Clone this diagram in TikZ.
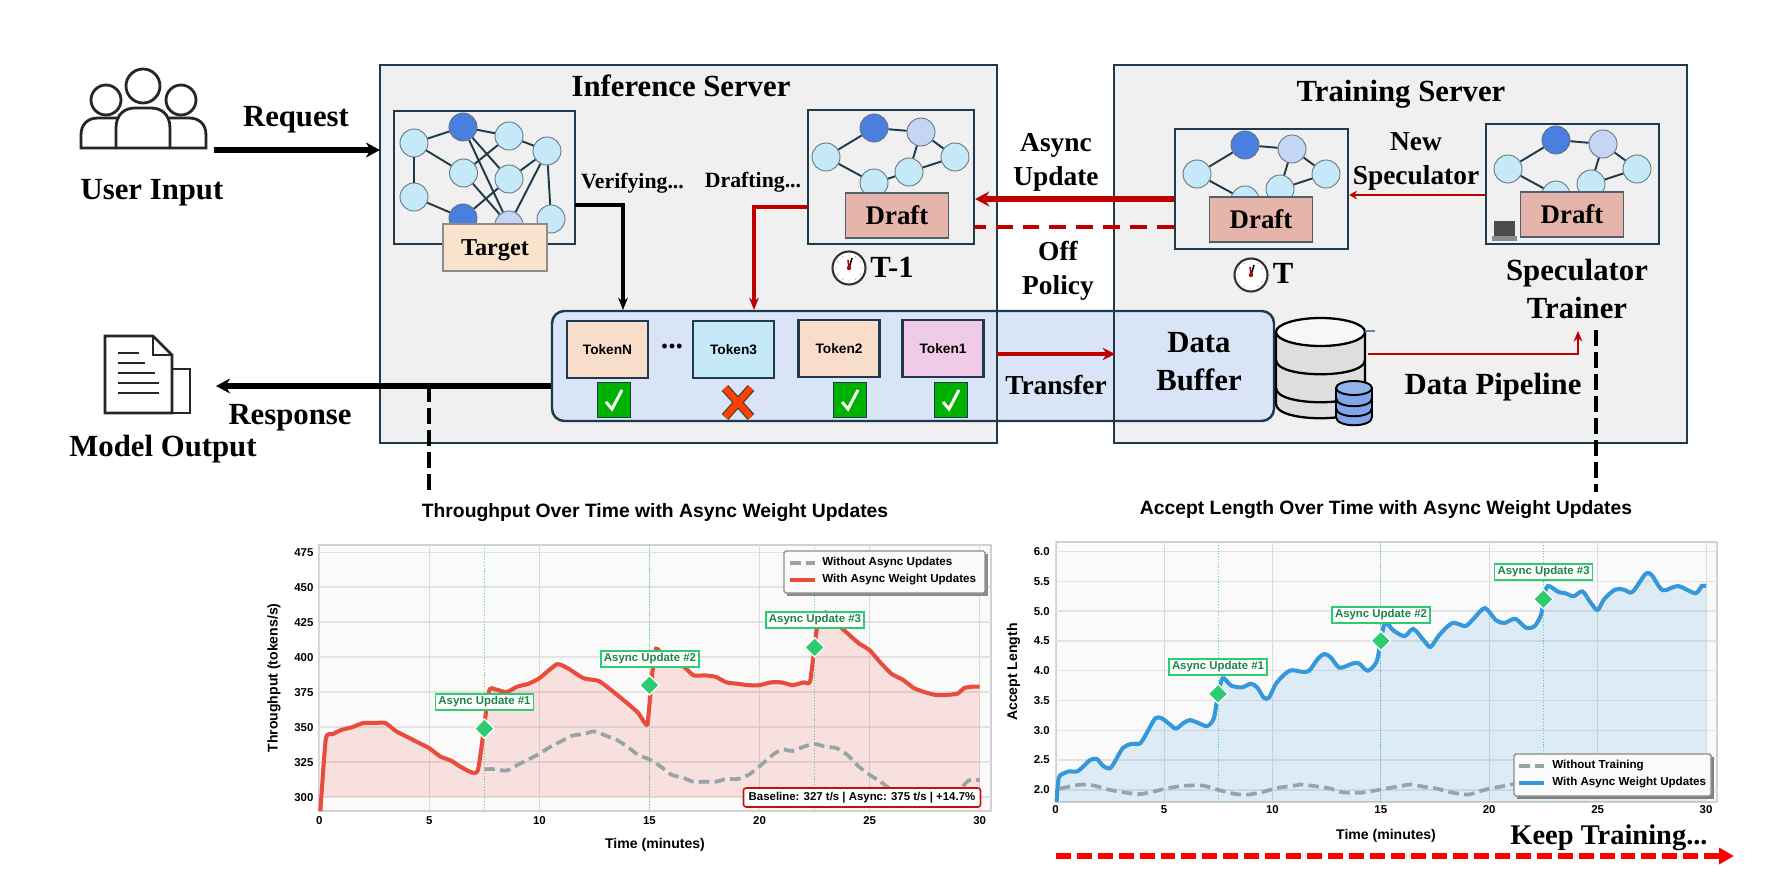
\documentclass[tikz,border=0pt]{standalone}
\usepackage{fontspec}
\setmainfont{Liberation Serif}
\setsansfont{Liberation Sans}
\usepackage{xcolor}
\usetikzlibrary{calc,arrows.meta,positioning,shapes.geometric}
\definecolor{framecol}{HTML}{1F3A4A}
\definecolor{panelcol}{HTML}{F0F0F0}
\definecolor{barcol}{HTML}{D9E5F7}
\definecolor{flowred}{HTML}{C00000}
\definecolor{netlight}{HTML}{C6E9FA}
\definecolor{netdark}{HTML}{4A7FE0}
\definecolor{netpale}{HTML}{C5D6F5}
\definecolor{draftcol}{HTML}{E5B5AC}
\definecolor{targetcol}{HTML}{F9E3CC}
\definecolor{tokenpeach}{HTML}{F8DDCB}
\definecolor{tokenpink}{HTML}{EFCBE8}
\definecolor{linered}{HTML}{E74C3C}
\definecolor{lineblue}{HTML}{3498DB}
\definecolor{linegray}{HTML}{95A5A6}
\definecolor{markgreen}{HTML}{2ECC71}
\definecolor{textgreen}{HTML}{1E8449}
\def\px{0.02cm}

\begin{document}
\begin{tikzpicture}[x=0.02cm, y=-0.02cm, >=Stealth,
		serverbox/.style={draw=framecol, fill=panelcol, line width=1.5pt, inner sep=0pt, outer sep=0pt},
		netbox/.style={draw=framecol, fill=panelcol, line width=1.3pt, inner sep=0pt},
		netnode/.style={circle, draw=framecol!70, fill=netlight, line width=0.5pt, inner sep=0pt, minimum size=28*\px},
		netline/.style={draw=framecol, line width=1.1pt},
		draftlabel/.style={draw=framecol!80, fill=draftcol, line width=0.7pt, minimum width=103*\px, minimum height=45*\px, font=\bfseries\fontsize{15.3}{18}\selectfont},
		tokenbox/.style={draw=framecol, line width=1.3pt, minimum width=81*\px, minimum height=57*\px, font=\sffamily\bfseries\fontsize{7.8}{9}\selectfont},
		okbox/.style={draw=framecol, fill=green!70!black, line width=0.7pt, minimum width=33*\px, minimum height=35*\px, inner sep=0pt},
		biglabel/.style={font=\bfseries\fontsize{17.5}{21.6}\selectfont, align=center},
		midlabel/.style={font=\bfseries\fontsize{15.6}{19.2}\selectfont, align=center},
		smalllabel/.style={font=\bfseries\fontsize{12.4}{15}\selectfont},
		blackflow/.style={-{Stealth[length=8pt,width=8.5pt]}, line width=2.9pt},
		thinblack/.style={-{Stealth[length=7pt,width=5.5pt]}, line width=1.9pt},
		thinred/.style={flowred, -{Stealth[length=7pt,width=5.5pt]}, line width=1.8pt},
		blackdash/.style={line width=2.6pt, dash pattern=on 9pt off 3.5pt},
		plotbg/.style={fill=black!2, draw=black!18, line width=1pt},
		gridh/.style={black!11, line width=0.8pt},
		gridv/.style={black!14, line width=0.4pt},
		updline/.style={markgreen!75, line width=0.6pt, densely dotted},
		updnote/.style={draw=markgreen, fill=white, line width=0.7pt, inner sep=1.5pt, minimum width=98*\px, minimum height=16*\px, text=textgreen, font=\sffamily\bfseries\fontsize{6.5}{8}\selectfont},
		updmark/.style={diamond, fill=markgreen, draw=white, line width=0.7pt, inner sep=0pt, minimum size=20*\px},
		tick/.style={inner sep=0pt, font=\sffamily\bfseries\fontsize{6.5}{8}\selectfont},
		axislabel/.style={inner sep=0pt, font=\sffamily\bfseries\fontsize{8}{10}\selectfont},
		charttitle/.style={inner sep=0pt, font=\sffamily\bfseries\fontsize{11}{13}\selectfont},
		legendbox/.style={fill=white!98!black, draw=black!45, line width=0.8pt, rounded corners=1pt},
		legendtext/.style={inner sep=0pt, anchor=west, font=\sffamily\bfseries\fontsize{6.6}{8}\selectfont},
	]
	\useasboundingbox (0,0) rectangle (1774,892);

	% Small network, one prefix per copy
	\def\draftnet#1#2#3{
		\node[netnode] (#1a) at (#2,#3) {};
		\node[netnode, fill=netdark] (#1b) at ({#2+48},{#3-29}) {};
		\node[netnode, fill=netpale] (#1c) at ({#2+95},{#3-25}) {};
		\node[netnode] (#1d) at ({#2+129},#3) {};
		\node[netnode] (#1e) at ({#2+83},{#3+15}) {};
		\node[netnode] (#1f) at ({#2+48},{#3+26}) {};
		\draw[netline] (#1a) -- (#1b);
		\draw[netline] (#1b) -- (#1c);
		\draw[netline] (#1c) -- (#1d);
		\draw[netline] (#1a) -- (#1f);
		\draw[netline] (#1c) -- (#1e);
		\draw[netline] (#1e) -- (#1d);
	}
	% Clock face
	\def\clockface#1#2#3{
		\node[circle, draw=black!80, fill=white, line width=1.2pt, inner sep=0pt, minimum size=33*\px] (#1) at (#2,#3) {};
		\foreach \ang in {0,30,...,330}
			\fill[black!35] ($(#1)+(\ang:13)$) circle (0.7);
		\draw[black, line width=0.9pt] (#1.center) -- ++(3,-10);
		\draw[flowred, line width=0.9pt] (#1.center) -- ++(-1,-8);
		\fill[flowred] (#1.center) circle (2.2);
	}
	% Green tick box
	\def\okmark#1#2#3{
		\node[okbox] (#1) at (#2,#3) {};
		\draw[white, line width=1.7pt] ({#2-8},{#3+2}) -- ({#2-2},{#3+9}) -- ({#2+8},{#3-10});
	}

	% Server panels
	\node[serverbox, minimum width=617*\px, minimum height=378*\px] (infer) at (688.5,254) {};
	\node[serverbox, minimum width=573*\px, minimum height=378*\px] (train) at (1400.5,254) {};
	\node[biglabel] (infertitle) at (681,86) {Inference Server};
	\node[biglabel] (traintitle) at (1401,94) {Training Server};

	% User icon
	\draw[black!85, line width=1.6pt, fill=white] (116,148) -- (81,148) -- (81,135) .. controls (81,124) and (88,118) .. (98,118) -- (118,118);
	\draw[black!85, line width=1.6pt, fill=white] (171,148) -- (206,148) -- (206,135) .. controls (206,124) and (199,118) .. (189,118) -- (169,118);
	\draw[black!85, line width=1.6pt, fill=white] (106,100) circle (15);
	\draw[black!85, line width=1.6pt, fill=white] (181,100) circle (15);
	\draw[black!85, line width=1.6pt, fill=white] (116,148) -- (116,128) .. controls (116,114) and (125,108) .. (135,108) -- (151,108) .. controls (161,108) and (170,114) .. (170,128) -- (170,148) -- cycle;
	\draw[black!85, line width=1.6pt, fill=white] (143,86) circle (17);
	\node[biglabel] (userlabel) at (152,193) {User Input};

	% Output icon
	\draw[black!85, line width=1.4pt] (172,369) -- (190,369) -- (190,413) -- (172,413);
	\draw[black!85, line width=1.6pt, fill=white] (105,336) -- (153,336) -- (172,355) -- (172,413) -- (105,413) -- cycle;
	\draw[black!85, line width=1.2pt] (153,336) -- (153,355) -- (172,355);
	\foreach \yy/\xx in {353/139,363/145,373/155,383/159,393/159}
		\draw[black!85, line width=1.6pt] (118,\yy) -- (\xx,\yy);
	\node[biglabel] (outputlabel) at (163,449) {Model Output};

	% Target network
	\node[netbox, minimum width=181*\px, minimum height=133*\px] (targetbox) at (484.5,177.5) {};
	\node[netnode] (ta) at (414,143) {};
	\node[netnode, fill=netdark] (tb) at (463,127) {};
	\node[netnode] (tc) at (509,136) {};
	\node[netnode] (td) at (547,151) {};
	\node[netnode] (te) at (463.5,173) {};
	\node[netnode] (tf) at (509,179) {};
	\node[netnode] (tg) at (414,197) {};
	\node[netnode, fill=netdark] (th) at (463,218) {};
	\node[netnode, fill=netpale] (ti) at (509,225) {};
	\node[netnode] (tj) at (551,219) {};
	\foreach \u/\w in {ta/tb,ta/te,ta/tg,tb/tc,tb/ti,tb/tf,tc/te,tc/td,td/tf,td/ti,td/tj,te/ti,tf/th,tg/th}
		\draw[netline] (\u) -- (\w);
	\node[draw=black!45, fill=targetcol, line width=0.7pt, text depth=0pt, minimum width=104*\px, minimum height=47*\px, font=\bfseries\fontsize{13.8}{16}\selectfont] (targetlabel) at (495,247.5) {Target};

	% Draft networks
	\node[netbox, minimum width=166*\px, minimum height=134*\px] (inferbox) at (891,177) {};
	\draftnet{ia}{826}{157}
	\draw[netline] (iaf) -- (iae);
	\node[draftlabel] (inferdraft) at (897,215.5) {Draft};
	\node[netbox, minimum width=173*\px, minimum height=120*\px] (trainbox) at (1261.5,189) {};
	\draftnet{tr}{1197}{174}
	\node[draftlabel] (traindraft) at (1261,219.5) {Draft};
	\node[netbox, minimum width=173*\px, minimum height=120*\px] (specbox) at (1572.5,184) {};
	\draftnet{sp}{1508}{169}
	\node[draftlabel] (specdraft) at (1572,214.5) {Draft};

	% Laptop
	\fill[black!70] (1494,221) rectangle (1515,236);
	\fill[black!45] (1492,236) -- (1517,236) -- (1517,241) -- (1492,241) -- cycle;

	% Clocks
	\clockface{oldclock}{849}{268}
	\node[biglabel] (oldtime) at (892,267) {T-1};
	\clockface{newclock}{1251}{275}
	\node[biglabel] (newtime) at (1283,273) {T};

	% Token bar and buffer, with the panel edges over it
	\node[draw=framecol, fill=barcol, line width=1.4pt, rounded corners=7pt, minimum width=722*\px, minimum height=110*\px] (tokenbar) at (913,366) {};
	\draw[framecol, line width=1.5pt] (infer.north east) -- (infer.south east);
	\draw[framecol, line width=1.5pt] (train.north west) -- (train.south west);
	\node[tokenbox, fill=tokenpeach] (tokenN) at (607.5,349.5) {TokenN};
	\node[tokenbox, fill=netlight] (tokenC) at (733.5,349.5) {Token3};
	\node[tokenbox, fill=tokenpeach] (tokenB) at (839,348.5) {Token2};
	\node[tokenbox, fill=tokenpink] (tokenA) at (943,348.5) {Token1};
	\node[font=\bfseries\fontsize{17}{17}\selectfont, inner sep=0pt] (tokendots) at (672,346) {...};
	\okmark{okN}{614}{400}
	\okmark{okB}{850}{400}
	\okmark{okA}{951}{400}
	\draw[black!75, line width=5pt] (725,388) -- (751,417) (751,388) -- (725,417);
	\draw[orange!50!red, line width=3.6pt] (725,388) -- (751,417) (751,388) -- (725,417);
	\node[biglabel] (bufferlabel) at (1199,362) {Data\\Buffer};

	% Database
	\draw[black, line width=1.3pt, fill=black!13] (1276,332) -- (1276,404) .. controls (1276,423) and (1365,423) .. (1365,404) -- (1365,332) -- cycle;
	\draw[black, line width=1.3pt] (1276,360) .. controls (1276,379) and (1365,379) .. (1365,360);
	\draw[black, line width=1.3pt] (1276,388) .. controls (1276,407) and (1365,407) .. (1365,388);
	\draw[black, line width=1.3pt, fill=black!3] (1320.5,332) ellipse (44.5 and 14);
	\draw[netdark!50!gray, line width=1.2pt] (1365,331) -- (1375,331);
	\draw[black, line width=1.1pt, fill=netdark!70!white] (1336,388) -- (1336,417) .. controls (1336,428) and (1372,428) .. (1372,417) -- (1372,388) -- cycle;
	\draw[black, line width=1.1pt] (1336,398) .. controls (1336,409) and (1372,409) .. (1372,398);
	\draw[black, line width=1.1pt] (1336,408) .. controls (1336,419) and (1372,419) .. (1372,408);
	\draw[black, line width=1.1pt, fill=netdark!60!white] (1354,388) ellipse (18 and 7);

	% Flow labels
	\node[biglabel] (reqlabel) at (296,120) {Request};
	\node[biglabel] (resplabel) at (290,418) {Response};
	\node[smalllabel] (verlabel) at (632.5,183) {Verifying...};
	\node[smalllabel] (draftinglabel) at (753,182) {Drafting...};
	\node[midlabel] (asynclabel) at (1056,162.5) {Async\\Update};
	\node[midlabel] (offlabel) at (1058,271) {Off\\Policy};
	\node[midlabel] (newlabel) at (1416,161.5) {New\\Speculator};
	\node[midlabel] (transferlabel) at (1056,385) {Transfer};
	\node[biglabel] (pipelabel) at (1493,387) {Data Pipeline};
	\node[biglabel] (trainerlabel) at (1577,289) {Speculator\\Trainer};

	% Free ends
	\coordinate (reqstart) at (214,150);
	\coordinate (respend) at (216,386);
	\coordinate (verout) at (575,205);
	\coordinate (verin) at (623,310);
	\coordinate (draftout) at (808,207);
	\coordinate (draftin) at (754,310);
	\coordinate (respdrop) at (429,386);
	\coordinate (respfoot) at (429,495);
	\coordinate (pipestart) at (1368,354);
	\coordinate (pipeend) at (1578,331);
	\coordinate (traintop) at (1596,330);
	\coordinate (trainfoot) at (1596,492);
	\coordinate (transferout) at (997,354);
	\coordinate (transferin) at (1115,354);

	% Black flows
	\draw[blackflow] (reqstart) -- (infer.west |- reqstart);
	\draw[blackflow] (tokenbar.west |- respend) -- (respend);
	\draw[thinblack] (verout) -| (verin);
	\draw[blackdash] (respdrop) -- (respfoot);
	\draw[blackdash] (traintop) -- (trainfoot);

	% Red flows
	\draw[thinred] (draftout) -| (draftin);
	\draw[flowred, line width=2.9pt, -{Stealth[length=8pt,width=8.5pt]}] (trainbox.west |- 0,199) -- (inferbox.east |- 0,199);
	\draw[flowred, line width=2.3pt, dash pattern=on 9.6pt off 5.7pt] (trainbox.west |- 0,227) -- (inferbox.east |- 0,227);
	\draw[flowred, line width=1.3pt, -{Stealth[length=4.5pt,width=5pt]}] (specbox.west |- 0,195) -- (trainbox.east |- 0,195);
	\draw[flowred, line width=2.4pt, -{Stealth[length=7pt,width=7pt]}] (transferout) -- (transferin);
	\draw[flowred, line width=1.4pt, -{Stealth[length=6pt,width=5pt]}] (pipestart) -| (pipeend);

	% Left chart
	\node[charttitle] (lefttitle) at (655,513) {Throughput Over Time with Async Weight Updates};
	\path[plotbg] (319.3,545) rectangle (990.7,810.7);
	\begin{scope}[shift={(6.386cm,-24.346cm)}, x=0.4404cm, y=0.028cm]
		\def\redcurve{-- plot[smooth, tension=0.3] coordinates {(0.05,290) (0.3,342) (0.6,345) (1,348) (1.5,350) (2,353) (2.5,353) (3,353) (3.5,347) (4,343) (4.5,339) (5,335) (5.5,329) (6,326) (6.5,321) (7.2,319) (7.7,375) (8,377) (8.5,375) (9,379) (9.5,381) (10,385) (10.8,395) (11.3,392) (12,385) (12.7,383) (13.3,376) (14,367) (14.5,360) (14.9,352) (15.1,385) (15.3,406) (15.7,400) (16.5,394) (17,387) (17.5,387) (18,386) (18.5,382) (19,381) (19.5,380) (20,380) (20.5,382) (21,382) (21.5,380) (22,382) (22.3,383) (22.6,420) (23,432) (23.5,424) (24,417) (24.5,410) (25,405) (25.5,396) (26,388) (26.5,384) (27,378) (27.5,375) (28,373) (28.5,373) (29,374) (29.3,378) (29.7,379) (30,379)}}

		% Grid
		\foreach \v [count=\i] in {300,325,350,375,400,425,450,475} {
			\draw[gridh] (0,\v) -- (30.5,\v);
			\node[tick, anchor=east] (ly\i) at (-0.25,\v) {\v};
		}
		\foreach \t [count=\i] in {0,5,10,15,20,25,30} {
			\draw[gridv] (\t,290.5) -- (\t,480);
			\node[tick] (lx\i) at (\t,283) {\t};
		}
		\foreach \t in {7.5,15,22.5}
			\draw[updline] (\t,290.5) -- (\t,480);

		% Curves
		\fill[linered, opacity=0.15] (0.05,300) \redcurve -- (30,300) -- cycle;
		\draw[linegray, line width=2.1pt, dash pattern=on 6pt off 3pt] plot[smooth] coordinates {(7.5,320) (8,320) (8.5,319) (9,323) (9.5,327) (10,331) (10.5,336) (11,340) (11.5,344) (12,345) (12.5,347) (13,344) (13.5,341) (14,336) (14.5,330) (15,327) (15.5,322) (16,316) (16.5,314) (17,311) (17.5,311) (18,311) (18.5,313) (19,313) (19.5,316) (20,322) (20.5,329) (21,334) (21.5,333) (22,336) (22.5,338) (23,336) (23.5,335) (24,330) (24.5,322) (25,316) (25.5,311) (26,305) (26.5,300) (27.5,296) (28.5,296) (29,303) (29.5,312) (30,312)};
		\draw[linered, line width=2.3pt] (0.05,290) \redcurve;

		% Update marks
		\foreach \t/\v/\i in {7.5/349/1,15/380/2,22.5/407/3}
			\node[updmark] (lm\i) at (\t,\v) {};
	\end{scope}
	\node[updnote] (lnote1) at (484.5,702) {Async Update \#1};
	\node[updnote] (lnote2) at (650,659) {Async Update \#2};
	\node[updnote] (lnote3) at (815,620) {Async Update \#3};
	\fill[black!45] (787,554) rectangle (988,596);
	\path[legendbox] (784,551) rectangle (985,593);
	\draw[linegray, line width=2.1pt, dash pattern=on 6pt off 3pt] (790,563) -- (815,563);
	\draw[linered, line width=2.3pt] (790,580) -- (815,580);
	\node[legendtext] (lleg1) at (822,562) {Without Async Updates};
	\node[legendtext] (lleg2) at (822,580) {With Async Weight Updates};
	\node[draw=flowred!80!linered, fill=white, line width=0.9pt, rounded corners=1.5pt, inner sep=1.5pt, minimum width=237*\px, minimum height=19*\px, font=\sffamily\bfseries\fontsize{6.5}{8}\selectfont] (lbase) at (862,797.5) {Baseline: 327 t/s | Async: 375 t/s | +14.7\%};
	\node[axislabel, rotate=90] (lylabel) at (274,678) {Throughput (tokens/s)};
	\node[axislabel] (lxlabel) at (655,845) {Time (minutes)};

	% Right chart
	\node[charttitle] (righttitle) at (1386,510) {Accept Length Over Time with Async Weight Updates};
	\path[plotbg] (1055.7,541.7) rectangle (1717,802);
	\begin{scope}[shift={(21.114cm,-18.184cm)}, x=0.4338cm, y=1.192cm]
		\def\bluecurve{-- plot[smooth, tension=0.5] coordinates {(0.05,1.8) (0.15,2.2) (0.4,2.28) (0.6,2.31) (1,2.31) (1.3,2.4) (1.6,2.5) (1.9,2.52) (2.2,2.4) (2.5,2.36) (2.7,2.45) (3.1,2.7) (3.5,2.77) (3.9,2.78) (4.2,2.95) (4.6,3.2) (4.9,3.2) (5.2,3.12) (5.55,3.03) (5.9,3.12) (6.2,3.17) (6.6,3.12) (7,3.07) (7.3,3.2) (7.45,3.5) (7.7,3.87) (8.1,3.75) (8.6,3.72) (9,3.78) (9.3,3.72) (9.6,3.55) (9.85,3.55) (10.2,3.8) (10.8,4.0) (11.4,3.98) (11.7,4.0) (12.1,4.2) (12.4,4.28) (12.7,4.22) (13.1,4.05) (13.7,4.12) (14,4.12) (14.4,4.0) (14.8,4.15) (15,4.5) (15.2,4.8) (15.6,4.67) (16.1,4.58) (16.5,4.7) (17,4.5) (17.3,4.4) (17.7,4.6) (18.3,4.8) (18.9,4.75) (19.3,4.88) (19.8,5.05) (20.3,4.85) (20.7,4.8) (21.2,4.87) (21.7,4.72) (22.1,4.75) (22.4,4.95) (22.5,5.2) (22.7,5.42) (23.2,5.32) (23.5,5.3) (23.9,5.25) (24.3,5.33) (24.7,5.13) (25,5.02) (25.3,5.2) (25.8,5.36) (26.2,5.36) (26.6,5.32) (27.2,5.62) (27.5,5.6) (28,5.35) (28.7,5.42) (29.5,5.3) (29.8,5.42) (30,5.42)}}

		% Grid
		\foreach \v [count=\i] in {2.0,2.5,3.0,3.5,4.0,4.5,5.0,5.5,6.0} {
			\draw[gridh] (0,\v) -- (30.5,\v);
			\node[tick, anchor=east] (ry\i) at (-0.25,\v) {\v};
		}
		\foreach \t [count=\i] in {0,5,10,15,20,25,30} {
			\draw[gridv] (\t,1.8) -- (\t,6.16);
			\node[tick] (rx\i) at (\t,1.67) {\t};
		}
		\foreach \t in {7.5,15,22.5}
			\draw[updline] (\t,1.8) -- (\t,6.16);

		% Curves
		\fill[lineblue, opacity=0.15] (0.05,1.8) \bluecurve -- (30,1.8) -- cycle;
		\draw[linegray, line width=2.1pt, dash pattern=on 6pt off 3pt] plot[smooth] coordinates {(0.2,2.02) (1,2.08) (1.5,2.09) (2,2.05) (2.5,2) (3.3,1.95) (3.9,1.93) (4.5,1.97) (5.2,2.03) (6,2.07) (6.8,2.07) (7.5,2) (8.3,1.93) (8.9,1.92) (9.6,1.97) (10.2,2.03) (11,2.07) (11.3,2.09) (12,2.06) (12.7,2.02) (13.2,1.96) (14,1.95) (14.6,1.98) (15.2,2.02) (16,2.07) (16.4,2.09) (17,2.05) (17.6,2.02) (18.2,1.96) (19,1.92) (19.5,1.97) (20,2.02) (20.6,2.06) (21,2.09) (22,2.12)};
		\draw[lineblue, line width=2.3pt] (0.05,1.8) \bluecurve;

		% Update marks
		\foreach \t/\v/\i in {7.5/3.61/1,15/4.5/2,22.5/5.2/3}
			\node[updmark] (rm\i) at (\t,\v) {};
	\end{scope}
	\node[updnote] (rnote1) at (1218,667) {Async Update \#1};
	\node[updnote] (rnote2) at (1381,615) {Async Update \#2};
	\node[updnote] (rnote3) at (1543.6,572) {Async Update \#3};
	\fill[black!50] (1517,757) rectangle (1714,799);
	\path[legendbox] (1514,754) rectangle (1711,796);
	\draw[linegray, line width=2.1pt, dash pattern=on 6pt off 3pt] (1519,766) -- (1544,766);
	\draw[lineblue, line width=2.3pt] (1519,783) -- (1544,783);
	\node[legendtext] (rleg1) at (1552,766) {Without Training};
	\node[legendtext] (rleg2) at (1552,783) {With Async Weight Updates};
	\node[axislabel, rotate=90] (rylabel) at (1013.6,672) {Accept Length};
	\node[axislabel] (rxlabel) at (1386,836) {Time (minutes)};

	% Keep going
	\node[font=\bfseries\fontsize{16.2}{18}\selectfont, inner sep=0pt] (keeplabel) at (1609,838) {Keep Training...};
	\coordinate (keepstart) at (1056,856);
	\coordinate (keepend) at (1734,856);
	\draw[red, line width=3pt, dash pattern=on 8.5pt off 3.4pt, -{Triangle[length=8.5pt,width=9pt]}] (keepstart) -- (keepend);
\end{tikzpicture}
\end{document}
